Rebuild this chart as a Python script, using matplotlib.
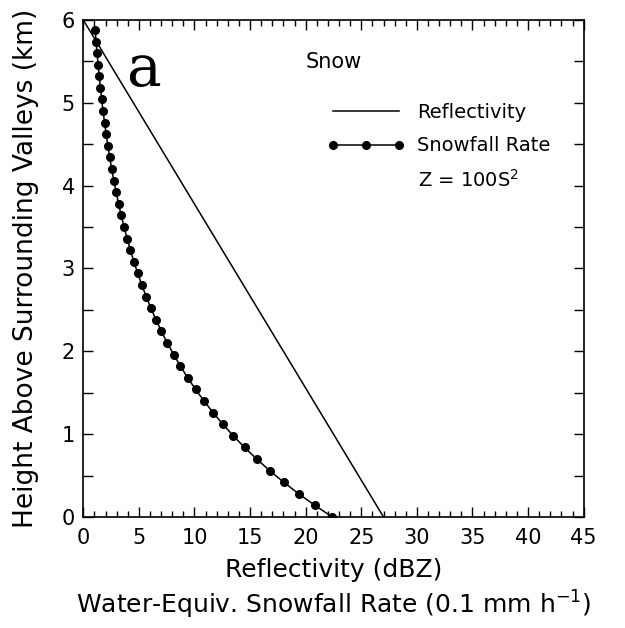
import matplotlib
matplotlib.use("Agg")
import matplotlib.pyplot as plt
from matplotlib.ticker import MultipleLocator

# reflectivity profile (dBZ) vs height (km)
refl_height = [0.0, 6.0]
refl_dbz = [27.0, 0.0]

# snowfall rate (0.1 mm/h)
snow_height = [0.00, 0.14, 0.28, 0.42, 0.56, 0.70, 0.84, 0.98, 1.12, 1.26,
               1.40, 1.54, 1.68, 1.82, 1.96, 2.10, 2.24, 2.38, 2.52, 2.66,
               2.80, 2.94, 3.08, 3.22, 3.36, 3.50, 3.64, 3.78, 3.92, 4.06,
               4.20, 4.34, 4.48, 4.62, 4.76, 4.90, 5.04, 5.18, 5.32, 5.46,
               5.60, 5.74, 5.88]
snow_rate = [22.39, 20.83, 19.37, 18.02, 16.76, 15.59, 14.50, 13.49, 12.55, 11.67,
             10.86, 10.10, 9.39, 8.74, 8.13, 7.56, 7.03, 6.54, 6.08, 5.66,
             5.26, 4.90, 4.55, 4.24, 3.94, 3.67, 3.41, 3.17, 2.95, 2.75,
             2.55, 2.38, 2.21, 2.06, 1.91, 1.78, 1.65, 1.54, 1.43, 1.33,
             1.24, 1.15, 1.07]

plt.rcParams['font.family'] = ['DejaVu Sans']

fig = plt.figure(figsize=(6.25, 6.28), dpi=100)
ax = fig.add_axes([0.1333, 0.1768, 0.8005, 0.7914])

ax.plot(refl_dbz, refl_height, color='black', lw=1.1, label='Reflectivity')
ax.plot(snow_rate, snow_height, color='black', lw=1.1, marker='o', ms=5.5,
        label='Snowfall Rate')

ax.set_xlim(0, 45)
ax.set_ylim(0, 6)
ax.xaxis.set_major_locator(MultipleLocator(5))
ax.xaxis.set_minor_locator(MultipleLocator(1))
ax.yaxis.set_major_locator(MultipleLocator(1))
ax.yaxis.set_minor_locator(MultipleLocator(0.5))
ax.tick_params(which='both', direction='in', top=True, right=True, width=1.0,
               labelsize=15)
ax.tick_params(axis='x', which='major', length=7, pad=8)
ax.tick_params(axis='x', which='minor', length=4)
ax.tick_params(axis='y', which='both', length=7, pad=6)
for s in ax.spines.values():
    s.set_linewidth(1.2)

ax.set_ylabel('Height Above Surrounding Valleys (km)', fontsize=19, labelpad=16)
ax.set_xlabel('Reflectivity (dBZ)\n' + r'Water-Equiv. Snowfall Rate (0.1 mm h$^{-1}$)',
              fontsize=18, linespacing=1.3, labelpad=7)

ax.text(0.086, 0.90, 'a', transform=ax.transAxes, fontsize=42,
        family='DejaVu Serif', ha='left', va='center')
ax.text(0.5, 0.915, 'Snow', transform=ax.transAxes, fontsize=15,
        ha='center', va='center')

ax.legend(loc='upper left', bbox_to_anchor=(0.472, 0.849), frameon=False,
          numpoints=3, handlelength=4.0, handletextpad=0.6, fontsize=14,
          labelspacing=0.75, borderaxespad=0)
ax.text(0.669, 0.678, r'Z = 100S$^2$', transform=ax.transAxes, fontsize=14,
        ha='left', va='center')

fig.savefig('out.png', dpi=100)
